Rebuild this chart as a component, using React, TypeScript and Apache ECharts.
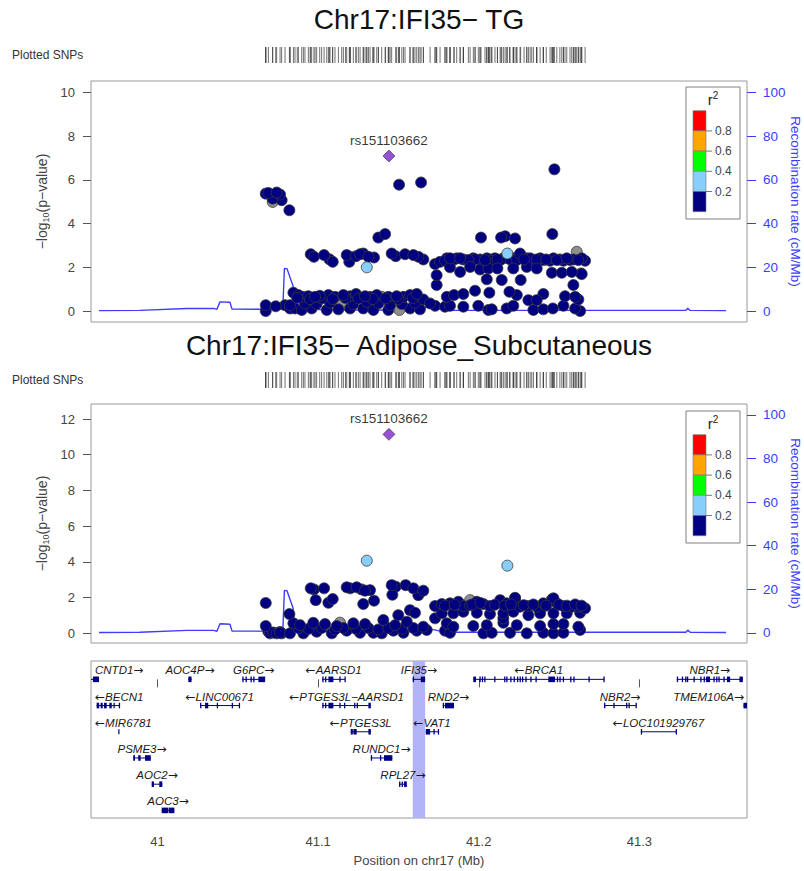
import React, { useEffect, useRef } from "react";
import * as echarts from "echarts";

// ---------- data ----------
const xTicks = [41, 41.1, 41.2, 41.3];
const tgTicks = [0, 2, 4, 6, 8, 10];
const adiposeTicks = [0, 2, 4, 6, 8, 10, 12];
const recombTicks = [0, 20, 40, 60, 80, 100];
const r2Breaks = [0.2, 0.4, 0.6, 0.8];
const r2Colors = ["#000080", "#87CEFA", "#00FF00", "#FFA500", "#FF0000"];
const naColor = "#8f8f8f";
const leadSnp = "rs151103662";
const leadPos = 41.1441;
const tgLeadLogP = 7.09;
const adiposeLeadLogP = 11.14;
const titleTG = "Chr17:IFI35\u2212 TG";
const titleAdipose = "Chr17:IFI35\u2212 Adipose_Subcutaneous";

const recombPos = [40.9636, 40.989, 41.0184, 41.035, 41.037, 41.0389, 41.0451, 41.0464, 41.078, 41.079, 41.0806, 41.0844, 41.0856, 41.0887, 41.107, 41.1634, 41.1684, 41.174, 41.179, 41.329, 41.3301, 41.3316, 41.354];
const recombRate = [0.2, 0.3, 1.2, 1.2, 0.8, 4.2, 4.0, 0.9, 0.8, 19.5, 19.4, 11.5, 2.5, 1.2, 0.5, 0.5, 2.0, 1.2, 0.3, 0.3, 1.3, 0.3, 0.2];

// [position (Mb), -log10 p, r2 (null = NA)]
const tgSnps: [number, number, number | null][] = [
  [41.0674, 5.37, 0.05], [41.069, 5.4, 0.06], [41.0717, 5.14, 0.05], [41.0717, 4.99, null], [41.0742, 5.42, 0.06], [41.0763, 5.33, 0.05], [41.0773, 5.07, 0.04], [41.0821, 4.61, 0.05],
  [41.0674, 0.27, 0.02], [41.0674, 0.0, 0.01], [41.0736, 0.22, 0.02], [41.0794, 0.27, 0.01], [41.0825, 0.12, 0.01],
  [41.1504, 5.78, 0.08], [41.1641, 5.88, 0.07], [41.2471, 6.48, 0.09], [41.1375, 3.36, 0.08], [41.1417, 3.52, 0.09], [41.2014, 3.36, 0.05], [41.2139, 3.36, 0.06], [41.2164, 3.42, 0.05], [41.2226, 3.32, 0.06], [41.2458, 3.52, 0.07],
  [41.0954, 2.6, 0.04], [41.0974, 2.48, 0.04], [41.1037, 2.56, 0.05], [41.107, 2.37, 0.04], [41.1091, 2.25, 0.04],
  [41.1178, 2.56, 0.05], [41.1199, 2.48, 0.04], [41.1194, 2.25, 0.04], [41.1236, 2.51, 0.05], [41.1261, 2.6, 0.05], [41.1281, 2.63, 0.04], [41.1313, 2.48, 0.05], [41.1348, 2.45, 0.04],
  [41.1303, 2.0, 0.28],
  [41.1458, 2.63, 0.06], [41.1483, 2.51, 0.05], [41.1541, 2.6, 0.05], [41.1593, 2.56, 0.06], [41.1624, 2.48, 0.05], [41.1655, 2.36, 0.04],
  [41.1728, 2.15, 0.03], [41.1759, 2.25, 0.04], [41.1801, 2.41, 0.04], [41.1821, 2.41, 0.05], [41.1863, 2.41, 0.04], [41.1904, 2.36, 0.04], [41.1935, 2.33, 0.05], [41.1966, 2.41, 0.04], [41.2008, 2.36, 0.04], [41.2039, 2.33, 0.05], [41.207, 2.36, 0.04], [41.2101, 2.41, 0.04], [41.2133, 2.33, 0.05], [41.2178, 2.63, 0.31], [41.2215, 2.41, 0.04], [41.2257, 2.63, 0.05], [41.2299, 2.41, 0.04], [41.233, 2.33, 0.04], [41.2361, 2.36, 0.05], [41.2402, 2.33, 0.04], [41.2444, 2.3, 0.04], [41.2486, 2.33, 0.05], [41.2527, 2.3, 0.04], [41.2568, 2.33, 0.04], [41.261, 2.71, null], [41.262, 2.33, 0.05], [41.2662, 2.3, 0.04],
  [41.179, 2.3, 0.04], [41.1846, 2.36, 0.04], [41.1884, 2.41, 0.05], [41.1977, 2.36, 0.04], [41.205, 2.41, 0.04], [41.2081, 2.3, 0.04], [41.2116, 2.36, 0.05], [41.2153, 2.41, 0.04], [41.2195, 2.36, 0.04], [41.2237, 2.33, 0.04], [41.2282, 2.36, 0.05], [41.232, 2.41, 0.04], [41.2382, 2.41, 0.04], [41.242, 2.36, 0.05], [41.2465, 2.41, 0.04], [41.2505, 2.36, 0.04], [41.2548, 2.41, 0.05], [41.2589, 2.36, 0.04], [41.2641, 2.41, 0.04],
  [41.1821, 2.0, 0.04], [41.1884, 1.79, 0.04], [41.1946, 2.02, 0.05], [41.2008, 1.9, 0.04], [41.206, 1.95, 0.04], [41.2116, 1.95, 0.05], [41.2215, 1.95, 0.04], [41.2299, 2.02, 0.04], [41.2361, 1.95, 0.05], [41.2455, 1.75, 0.04], [41.2517, 1.75, 0.04], [41.2579, 1.79, 0.05], [41.2637, 1.72, 0.04],
  [41.1738, 1.64, 0.04], [41.1738, 1.19, 0.03], [41.205, 1.45, 0.04], [41.2143, 1.42, 0.04], [41.2261, 1.42, 0.05], [41.2589, 1.19, 0.04], [41.2641, 1.69, 0.04],
  [41.1801, 0.65, 0.03], [41.1846, 0.73, 0.03], [41.1904, 0.78, 0.04], [41.1977, 0.93, 0.04], [41.2066, 0.84, 0.03], [41.2191, 0.88, 0.04], [41.2237, 0.73, 0.03], [41.2309, 0.5, 0.03], [41.2361, 0.5, 0.04], [41.2402, 0.78, 0.03], [41.2537, 0.68, 0.03], [41.26, 0.65, 0.04], [41.262, 0.53, 0.03],
  [41.1728, 0.24, 0.02], [41.179, 0.2, 0.02], [41.1904, 0.2, 0.02], [41.1997, 0.24, 0.02], [41.206, 0.05, 0.01], [41.2081, 0.08, 0.02], [41.2174, 0.12, 0.02], [41.2215, 0.24, 0.02], [41.234, 0.05, 0.01], [41.2402, 0.08, 0.02], [41.2461, 0.12, 0.02], [41.2527, 0.24, 0.02], [41.26, 0.12, 0.02], [41.2631, 0.0, 0.01], [41.1821, 0.24, 0.02],
  [41.0846, 0.84, 0.03], [41.0877, 0.73, 0.03], [41.0908, 0.65, 0.03], [41.0939, 0.68, 0.03], [41.0981, 0.65, 0.04], [41.1022, 0.58, 0.03], [41.1064, 0.73, 0.03], [41.1105, 0.65, 0.03], [41.1157, 0.73, 0.04], [41.1199, 0.68, 0.03], [41.1236, 0.78, 0.03], [41.1292, 0.68, 0.04], [41.1323, 0.65, 0.03], [41.1365, 0.73, 0.03], [41.1396, 0.65, null], [41.1437, 0.65, 0.03], [41.1489, 0.68, 0.04], [41.1531, 0.65, 0.03], [41.1572, 0.73, 0.03], [41.1614, 0.78, 0.04], [41.1655, 0.53, 0.03], [41.1697, 0.35, 0.03],
  [41.0825, 0.27, 0.02], [41.0918, 0.35, 0.02], [41.0991, 0.32, 0.02], [41.1074, 0.38, 0.02], [41.1147, 0.35, null], [41.1219, 0.32, 0.02], [41.1303, 0.42, 0.02], [41.1375, 0.35, 0.02], [41.1448, 0.27, 0.02], [41.1521, 0.32, 0.02], [41.1603, 0.38, 0.02],
  [41.0856, 0.12, 0.01], [41.0898, 0.05, 0.01], [41.096, 0.12, 0.01], [41.1054, 0.05, 0.01], [41.1126, 0.08, 0.01], [41.1199, 0.12, 0.01], [41.1281, 0.12, 0.01], [41.1344, 0.05, 0.01], [41.1437, 0.05, 0.01], [41.1506, 0.05, null], [41.1572, 0.12, 0.01], [41.1634, 0.08, 0.01],
  [41.087, 0.6, 0.03], [41.095, 0.55, 0.03], [41.101, 0.7, 0.03], [41.109, 0.55, 0.03], [41.117, 0.6, 0.03], [41.125, 0.58, 0.03], [41.134, 0.55, 0.03], [41.142, 0.58, 0.03], [41.15, 0.55, 0.03], [41.159, 0.6, 0.03],
];

const adiposeSnps: [number, number, number | null][] = [
  [41.0674, 1.7, 0.05], [41.0674, 0.41, 0.02], [41.069, 0.1, 0.01], [41.07, 0.0, 0.01], [41.072, 0.05, 0.01], [41.0742, 0.0, 0.01], [41.0763, 0.08, 0.01], [41.0773, 0.0, 0.01],
  [41.0821, 1.08, 0.04],
  [41.0954, 2.52, 0.05], [41.0974, 2.46, 0.04], [41.1037, 2.52, 0.05], [41.0985, 1.86, 0.04], [41.1064, 1.71, 0.04], [41.1091, 1.92, 0.05],
  [41.1178, 2.58, 0.05], [41.1199, 2.52, 0.04], [41.124, 2.58, 0.05], [41.1271, 2.46, 0.04], [41.1292, 2.39, 0.05], [41.1323, 2.42, 0.04], [41.1281, 1.64, 0.04], [41.1348, 1.83, 0.05],
  [41.1458, 2.7, 0.06], [41.1483, 2.61, 0.05], [41.1545, 2.7, 0.05], [41.1593, 2.52, 0.05], [41.1624, 2.14, 0.04], [41.1655, 2.39, 0.05], [41.1462, 2.16, 0.05],
  [41.1572, 1.3, 0.04], [41.1603, 1.15, 0.04], [41.1499, 1.02, 0.04],
  [41.1303, 4.07, 0.29], [41.2178, 3.79, 0.27],
  [41.0846, 0.56, 0.03], [41.0887, 0.46, 0.03], [41.097, 0.59, 0.03], [41.1043, 0.52, 0.03], [41.1116, 0.41, 0.03], [41.1219, 0.56, 0.03], [41.1292, 0.52, 0.03], [41.1406, 0.75, 0.03], [41.1479, 0.46, 0.03], [41.1552, 0.65, 0.03], [41.1655, 0.37, 0.03], [41.1728, 0.84, 0.03], [41.1801, 0.56, 0.03], [41.1842, 0.37, 0.03], [41.1966, 0.41, 0.03], [41.205, 0.46, 0.03], [41.2153, 0.59, 0.03], [41.2237, 0.46, 0.03], [41.2382, 0.41, 0.03], [41.2527, 0.52, 0.03], [41.262, 0.37, 0.03], [41.2153, 0.84, 0.03], [41.2465, 0.52, 0.03],
  [41.1136, 0.6, null], [41.1946, 1.86, null],
  [41.0763, 0.03, 0.01], [41.0825, 0.0, 0.01], [41.0908, 0.0, 0.01], [41.0991, 0.09, 0.01], [41.1085, 0.0, 0.01], [41.1178, 0.15, 0.01], [41.1261, 0.03, 0.01], [41.1344, 0.03, 0.01], [41.1396, 0.0, 0.01], [41.1468, 0.15, 0.01], [41.1531, 0.03, 0.01], [41.1614, 0.15, 0.01], [41.1676, 0.19, 0.01], [41.179, 0.15, 0.01], [41.1821, 0.03, 0.01], [41.2029, 0.0, 0.01], [41.2081, 0.03, 0.01], [41.2195, 0.03, 0.01], [41.2299, 0.0, 0.01], [41.2402, 0.03, 0.01], [41.2465, 0.0, 0.01], [41.2527, 0.03, 0.01], [41.2631, 0.19, 0.01],
  [41.1728, 1.53, 0.04], [41.177, 1.64, 0.04], [41.1821, 1.68, 0.04], [41.1873, 1.77, 0.04], [41.1904, 1.53, 0.04], [41.1946, 1.58, 0.04], [41.1988, 1.77, 0.04], [41.2029, 1.64, 0.04], [41.207, 1.53, 0.04], [41.2133, 1.86, 0.04], [41.2174, 1.68, 0.04], [41.2226, 1.96, 0.04], [41.2257, 1.49, 0.04], [41.2309, 1.53, 0.04], [41.2361, 1.49, 0.04], [41.2402, 1.68, 0.04], [41.2455, 1.9, 0.04], [41.2486, 1.68, 0.04], [41.2527, 1.53, 0.04], [41.2579, 1.49, 0.04], [41.262, 1.49, 0.04], [41.2662, 1.4, 0.04], [41.2226, 1.99, 0.04], [41.2465, 1.96, 0.04],
  [41.179, 1.55, 0.04], [41.185, 1.6, 0.04], [41.196, 1.62, 0.04], [41.201, 1.7, 0.04], [41.21, 1.6, 0.04], [41.216, 1.55, 0.04], [41.22, 1.62, 0.04], [41.228, 1.58, 0.04], [41.234, 1.62, 0.04], [41.242, 1.55, 0.04], [41.25, 1.6, 0.04], [41.255, 1.55, 0.04], [41.26, 1.62, 0.04], [41.264, 1.55, 0.04],
  [41.177, 1.12, 0.03], [41.1842, 1.12, 0.03], [41.1904, 1.21, 0.03], [41.1988, 1.15, 0.03], [41.207, 1.08, 0.03], [41.2153, 1.12, 0.03], [41.2215, 1.21, 0.03], [41.2309, 1.02, 0.03], [41.2382, 1.12, 0.03], [41.2465, 1.12, 0.03], [41.2548, 1.12, 0.03], [41.2631, 1.15, 0.03],
  [41.0877, 0.3, 0.02], [41.0939, 0.25, 0.02], [41.1022, 0.3, 0.02], [41.1105, 0.22, 0.02], [41.1157, 0.3, 0.02], [41.1236, 0.25, 0.02], [41.1313, 0.3, 0.02], [41.1375, 0.22, 0.02], [41.1437, 0.3, 0.02], [41.1521, 0.25, 0.02], [41.1593, 0.3, 0.02],
];

type Gene = { name: string; start: number; end: number; strand: number; row: number; exons: [number, number][] };
const genes: Gene[] = [
  { name: "CNTD1", start: 40.9508, end: 40.9636, strand: 1, row: 0, exons: [[40.9598, 40.9636]] },
  { name: "AOC4P", start: 41.0192, end: 41.0212, strand: 1, row: 0, exons: [[41.0192, 41.0212]] },
  { name: "G6PC", start: 41.0528, end: 41.067, strand: 1, row: 0, exons: [[41.0528, 41.0531], [41.0548, 41.0551], [41.0579, 41.0582], [41.0596, 41.0599], [41.0628, 41.067]] },
  { name: "AARSD1", start: 41.1026, end: 41.1167, strand: -1, row: 0, exons: [[41.1026, 41.1029], [41.1043, 41.1046], [41.1064, 41.1067], [41.107, 41.1095], [41.1132, 41.1135], [41.1164, 41.1167]] },
  { name: "IFI35", start: 41.1589, end: 41.1666, strand: 1, row: 0, exons: [[41.1589, 41.1592], [41.1639, 41.1666]] },
  { name: "BRCA1", start: 41.1966, end: 41.2782, strand: -1, row: 0, exons: [[41.1966, 41.1983], [41.2004, 41.2007], [41.2019, 41.2022], [41.2034, 41.2037], [41.2096, 41.2099], [41.2158, 41.2161], [41.2171, 41.2174], [41.2196, 41.2199], [41.2217, 41.222], [41.2238, 41.2241], [41.2254, 41.2257], [41.2269, 41.2272], [41.229, 41.2293], [41.2321, 41.2324], [41.2353, 41.2356], [41.2433, 41.2475], [41.2486, 41.2489], [41.2502, 41.2505], [41.2523, 41.2526], [41.2569, 41.2572], [41.2589, 41.2592], [41.2683, 41.2686], [41.2776, 41.2782]] },
  { name: "NBR1", start: 41.3233, end: 41.3644, strand: 1, row: 0, exons: [[41.3233, 41.3236], [41.3264, 41.3267], [41.3285, 41.3288], [41.3296, 41.3299], [41.3337, 41.334], [41.3379, 41.3382], [41.34, 41.3403], [41.3415, 41.344], [41.3461, 41.3464], [41.3478, 41.3481], [41.3492, 41.3495], [41.3523, 41.353], [41.3545, 41.3565], [41.3623, 41.3644]] },
  { name: "BECN1", start: 40.9621, end: 40.9762, strand: -1, row: 1, exons: [[40.9621, 40.9637], [40.9646, 40.9659], [40.9667, 40.9684], [40.97, 40.9715], [40.9726, 40.9729], [40.9759, 40.9762]] },
  { name: "LINC00671", start: 41.0265, end: 41.0509, strand: -1, row: 1, exons: [[41.0265, 41.0268], [41.0296, 41.0316], [41.0369, 41.0372], [41.0462, 41.0465], [41.0506, 41.0509]] },
  { name: "PTGES3L\u2212AARSD1", start: 41.1026, end: 41.1328, strand: -1, row: 1, exons: [[41.1026, 41.1029], [41.1043, 41.1046], [41.1064, 41.1095], [41.1132, 41.1135], [41.1161, 41.1164], [41.1224, 41.1227], [41.124, 41.1243], [41.1313, 41.1328]] },
  { name: "RND2", start: 41.1776, end: 41.1846, strand: 1, row: 1, exons: [[41.1776, 41.1779], [41.179, 41.1846]] },
  { name: "NBR2", start: 41.278, end: 41.2979, strand: 1, row: 1, exons: [[41.278, 41.2783], [41.2838, 41.2841], [41.2917, 41.292], [41.2932, 41.2935], [41.2976, 41.2979]] },
  { name: "TMEM106A", start: 41.3648, end: 41.38, strand: 1, row: 1, exons: [[41.3648, 41.3675]] },
  { name: "MIR6781", start: 40.9759, end: 40.9762, strand: -1, row: 2, exons: [] },
  { name: "PTGES3L", start: 41.1203, end: 41.1328, strand: -1, row: 2, exons: [[41.1203, 41.1207], [41.1212, 41.1216], [41.1222, 41.124], [41.1313, 41.1328]] },
  { name: "VAT1", start: 41.167, end: 41.1748, strand: -1, row: 2, exons: [[41.167, 41.1697], [41.1718, 41.1721], [41.1745, 41.1748]] },
  { name: "LOC101929767", start: 41.3009, end: 41.3229, strand: -1, row: 2, exons: [[41.3009, 41.3012], [41.3226, 41.3229]] },
  { name: "PSME3", start: 40.9849, end: 40.9958, strand: 1, row: 3, exons: [[40.9849, 40.986], [40.988, 40.9895], [40.9922, 40.9958]] },
  { name: "RUNDC1", start: 41.1328, end: 41.1462, strand: 1, row: 3, exons: [[41.1328, 41.1331], [41.1385, 41.1388], [41.141, 41.1462]] },
  { name: "AOC2", start: 40.9964, end: 41.003, strand: 1, row: 4, exons: [[40.9964, 40.9978], [41.0011, 41.003]] },
  { name: "RPL27", start: 41.1504, end: 41.1552, strand: 1, row: 4, exons: [[41.1504, 41.1507], [41.152, 41.1523], [41.1535, 41.1552]] },
  { name: "AOC3", start: 41.0026, end: 41.0105, strand: 1, row: 5, exons: [[41.0026, 41.0067], [41.007, 41.0105]] },
];
const highlightGene = "IFI35";

// ---------- layout / style ----------
const X_MIN = 40.9586;
const X_MAX = 41.367;
const PL = 91;
const PW = 656;
const FONT = '"Liberation Sans", Arial, Helvetica, sans-serif';
const ARROW_FONT = '"DejaVu Sans", sans-serif';
const RECOMB_COLOR = "#3d3dff";
const AXIS_TEXT = "#444";

const r2Color = (r2: number | null) => {
  if (r2 === null) return naColor;
  let i = 0;
  while (i < r2Breaks.length && r2 >= r2Breaks[i]) i++;
  return r2Colors[i];
};

let measureCtx: CanvasRenderingContext2D | null = null;
const measure = (text: string, font: string) => {
  if (!measureCtx) measureCtx = document.createElement("canvas").getContext("2d");
  if (!measureCtx) return text.length * 7;
  measureCtx.font = font;
  return measureCtx.measureText(text).width;
};

const fmtX = (v: number) => String(Math.round(v * 10) / 10);

function buildOption() {
  const panels = [
    { top: 81, height: 241, yMin: -0.5, yMax: 10.52, rMin: -5, rMax: 105.2, ticks: tgTicks, snps: tgSnps, lead: tgLeadLogP, title: titleTG, titleY: 19, rugTop: 47, legendTop: 87 },
    { top: 404, height: 239, yMin: -0.54, yMax: 12.84, rMin: -4.6, rMax: 105, ticks: adiposeTicks, snps: adiposeSnps, lead: adiposeLeadLogP, title: titleAdipose, titleY: 345, rugTop: 372, legendTop: 411 },
  ];
  const genePanel = { top: 661, height: 157 };

  const grids: any[] = [];
  const xAxes: any[] = [];
  const yAxes: any[] = [];
  const series: any[] = [];
  const graphics: any[] = [];

  const hiddenX = (gi: number) => ({ type: "value", gridIndex: gi, min: X_MIN, max: X_MAX, show: false });

  const rugPositions = tgSnps.map((s) => s[0]).concat([leadPos]);

  panels.forEach((p) => {
    const gMain = grids.length;
    grids.push({ left: PL, top: p.top, width: PW, height: p.height, show: true, borderColor: "#9a9a9a", borderWidth: 1, backgroundColor: "#fff" });
    xAxes.push(hiddenX(gMain));
    const yLeft = yAxes.length;
    yAxes.push({
      type: "value", gridIndex: gMain, min: p.yMin, max: p.yMax, position: "left",
      axisLine: { show: false }, splitLine: { show: false },
      axisTick: { show: true, length: 8, lineStyle: { color: "#555" }, customValues: p.ticks },
      axisLabel: { customValues: p.ticks, fontSize: 13, color: AXIS_TEXT, margin: 16, fontFamily: FONT },
    });
    const yRight = yAxes.length;
    yAxes.push({
      type: "value", gridIndex: gMain, min: p.rMin, max: p.rMax, position: "right",
      axisLine: { show: false }, splitLine: { show: false },
      axisTick: { show: true, length: 9, lineStyle: { color: RECOMB_COLOR }, customValues: recombTicks },
      axisLabel: { customValues: recombTicks, fontSize: 13.5, color: RECOMB_COLOR, margin: 16, fontFamily: FONT },
    });

    series.push({
      type: "line", xAxisIndex: gMain, yAxisIndex: yRight, symbol: "none", silent: true,
      data: recombPos.map((x, i) => [x, recombRate[i]]),
      lineStyle: { color: RECOMB_COLOR, width: 1.4 }, z: 2,
    });
    const sorted = [...p.snps].sort((a, b) => (a[2] === null ? -1 : a[2]) - (b[2] === null ? -1 : b[2]));
    series.push({
      type: "scatter", xAxisIndex: gMain, yAxisIndex: yLeft, symbol: "circle", symbolSize: 11, z: 3,
      data: sorted.map((s) => ({ value: [s[0], s[1]], itemStyle: { color: r2Color(s[2]) } })),
      itemStyle: { borderColor: "#3a3a3a", borderWidth: 0.8, opacity: 1 },
    });
    series.push({
      type: "scatter", xAxisIndex: gMain, yAxisIndex: yLeft, symbol: "diamond", symbolSize: 12, z: 4,
      data: [[leadPos, p.lead]],
      itemStyle: { color: "#7D26CD", borderColor: "#3a3a3a", borderWidth: 0.8 },
      label: { show: true, position: "top", distance: 2, formatter: leadSnp, fontSize: 13.5, color: "#000", fontFamily: FONT },
    });

    const gRug = grids.length;
    grids.push({ left: PL, top: p.rugTop, width: PW, height: 16, show: false });
    xAxes.push(hiddenX(gRug));
    const yRug = yAxes.length;
    yAxes.push({ type: "value", gridIndex: gRug, min: 0, max: 1, show: false });
    series.push({
      type: "scatter", xAxisIndex: gRug, yAxisIndex: yRug, symbol: "rect", symbolSize: [0.9, 16], silent: true,
      data: rugPositions.map((x) => [x, 0.5]), itemStyle: { color: "#3a3a3a" },
    });

    graphics.push({ type: "text", x: PL + PW / 2, y: p.titleY, style: { text: p.title, fontSize: 28, fontFamily: FONT, fill: "#111", align: "center", verticalAlign: "middle" } });
    graphics.push({ type: "text", x: 12, y: p.rugTop + 8, style: { text: "Plotted SNPs", fontSize: 12, fontFamily: FONT, fill: "#333", align: "left", verticalAlign: "middle" } });
    const midY = p.top + p.height / 2;
    graphics.push({
      type: "text", x: 42, y: midY, rotation: Math.PI / 2,
      style: {
        text: "\u2212log{sub|10}(p\u2212value)", fontSize: 14, lineHeight: 16, fontFamily: FONT, fill: AXIS_TEXT, align: "center", verticalAlign: "middle",
        rich: { sub: { fontSize: 9, lineHeight: 11, verticalAlign: "bottom", fontFamily: FONT, fill: AXIS_TEXT } },
      },
    });
    graphics.push({
      type: "text", x: 795, y: midY, rotation: -Math.PI / 2,
      style: { text: "Recombination rate (cM/Mb)", fontSize: 13.5, fontFamily: FONT, fill: RECOMB_COLOR, align: "center", verticalAlign: "middle" },
    });

    const lt = p.legendTop;
    graphics.push({ type: "rect", shape: { x: 686, y: lt, width: 54, height: 132 }, style: { fill: "#fff", stroke: "#808080", lineWidth: 1 }, z: 50 });
    graphics.push({
      type: "text", x: 713, y: lt + 12, z: 51,
      style: { text: "r{sup|2}", fontSize: 15, lineHeight: 17, fontFamily: FONT, fill: "#222", align: "center", verticalAlign: "middle", rich: { sup: { fontSize: 10, lineHeight: 12, verticalAlign: "top", fontFamily: FONT, fill: "#222" } } },
    });
    const bh = 20.2;
    const by0 = lt + 23.7;
    const colorsTopDown = [...r2Colors].reverse();
    colorsTopDown.forEach((c, k) => {
      graphics.push({ type: "rect", shape: { x: 693, y: by0 + k * bh, width: 13, height: bh }, style: { fill: c, stroke: "#777", lineWidth: 0.6 }, z: 51 });
    });
    const breaksTopDown = [...r2Breaks].reverse();
    breaksTopDown.forEach((b, k) => {
      const yy = by0 + (k + 1) * bh;
      graphics.push({ type: "line", shape: { x1: 706, y1: yy, x2: 712, y2: yy }, style: { stroke: "#777", lineWidth: 1 }, z: 51 });
      graphics.push({ type: "text", x: 715, y: yy, z: 51, style: { text: b.toFixed(1), fontSize: 12, fontFamily: FONT, fill: AXIS_TEXT, align: "left", verticalAlign: "middle" } });
    });
  });

  // gene panel
  const gGene = grids.length;
  grids.push({ left: PL, top: genePanel.top, width: PW, height: genePanel.height, show: true, borderColor: "#9a9a9a", borderWidth: 1, backgroundColor: "#fff" });
  xAxes.push({
    type: "value", gridIndex: gGene, min: X_MIN, max: X_MAX, position: "bottom",
    axisLine: { show: false }, splitLine: { show: false },
    axisTick: { show: true, length: 8, lineStyle: { color: "#555" }, customValues: xTicks },
    axisLabel: { customValues: xTicks, fontSize: 13, color: AXIS_TEXT, margin: 17, fontFamily: FONT, formatter: (v: number) => fmtX(v) },
  });
  const yGene = yAxes.length;
  yAxes.push({ type: "value", gridIndex: gGene, min: -0.7, max: 5.29, inverse: true, show: false });

  const hg = genes.find((g) => g.name === highlightGene)!;
  series.push({
    type: "custom", xAxisIndex: gGene, yAxisIndex: yGene, silent: true, z: 1,
    data: [[hg.start, hg.end]],
    renderItem: (params: any, api: any) => {
      const cs = params.coordSys;
      const a = api.coord([api.value(0), 0])[0];
      const b = api.coord([api.value(1), 0])[0];
      return { type: "rect", shape: { x: a, y: cs.y, width: b - a, height: cs.height }, style: { fill: "#b2b2f7" } };
    },
  });

  const LABEL_SIZE = 11.5;
  const ARROW_SIZE = 12;
  const labelFont = `italic ${LABEL_SIZE}px ${FONT}`;
  const arrowFont = `${ARROW_SIZE}px ${ARROW_FONT}`;
  series.push({
    type: "custom", xAxisIndex: gGene, yAxisIndex: yGene, silent: true, z: 3,
    data: genes.map((g) => [g.start, g.end, g.row]),
    renderItem: (params: any, api: any) => {
      const g = genes[params.dataIndex];
      const cs = params.coordSys;
      const left = cs.x;
      const right = cs.x + cs.width;
      const clampX = (v: number) => Math.max(left, Math.min(right, v));
      const p1 = api.coord([g.start, g.row]);
      const p2 = api.coord([g.end, g.row]);
      const y = p1[1];
      const x1 = clampX(p1[0]);
      const x2 = clampX(p2[0]);
      const children: any[] = [];
      if (g.exons.length === 0) {
        children.push({ type: "rect", shape: { x: x1 - 0.5, y: y - 2.5, width: 1.2, height: 5 }, style: { fill: "#000080" } });
      } else {
        children.push({ type: "line", shape: { x1, y1: y, x2: Math.max(x2, x1 + 0.5), y2: y }, style: { stroke: "#000080", lineWidth: 1 } });
        g.exons.forEach(([s, e]) => {
          const a = clampX(api.coord([s, g.row])[0]);
          const b = clampX(api.coord([e, g.row])[0]);
          const w = Math.max(b - a, 1.3);
          if (a >= right) return;
          children.push({ type: "rect", shape: { x: Math.min(a, right - w), y: y - 2.8, width: w, height: 5.6 }, style: { fill: "#000080" } });
        });
      }
      const arrow = g.strand > 0 ? "\u2192" : "\u2190";
      const text = g.strand > 0 ? `{n|${g.name}}{a|${arrow}}` : `{a|${arrow}}{n|${g.name}}`;
      const tw = measure(g.name, labelFont) + measure(arrow, arrowFont);
      let cx = (p1[0] + p2[0]) / 2;
      cx = Math.max(left + tw / 2 + 4, Math.min(right - tw / 2 - 3, cx));
      children.push({
        type: "text", x: cx, y: y - 9,
        style: {
          text, align: "center", verticalAlign: "middle", lineHeight: 14,
          rich: {
            n: { fontSize: LABEL_SIZE, fontStyle: "italic", fontFamily: FONT, fill: "#1a1a1a", lineHeight: 14 },
            a: { fontSize: ARROW_SIZE, fontFamily: ARROW_FONT, fill: "#1a1a1a", lineHeight: 14 },
          },
        },
      });
      return { type: "group", children };
    },
  });

  graphics.push({ type: "text", x: PL + PW / 2, y: 860, style: { text: "Position on chr17 (Mb)", fontSize: 13, fontFamily: FONT, fill: AXIS_TEXT, align: "center", verticalAlign: "middle" } });

  return {
    animation: false,
    backgroundColor: "#fff",
    textStyle: { fontFamily: FONT },
    grid: grids,
    xAxis: xAxes,
    yAxis: yAxes,
    series,
    graphic: graphics,
  };
}

export default function App() {
  const ref = useRef<HTMLDivElement>(null);
  useEffect(() => {
    if (!ref.current) return;
    const chart = echarts.init(ref.current, undefined, { renderer: "svg" });
    chart.setOption(buildOption() as any);
    return () => chart.dispose();
  }, []);
  return <div ref={ref} style={{ position: "absolute", left: 0, top: 0, width: 804, height: 871, background: "#fff" }} />;
}
